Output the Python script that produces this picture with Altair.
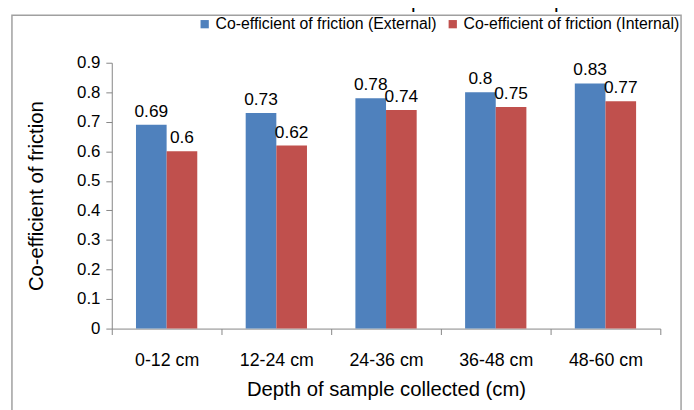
import altair as alt
import pandas as pd

categories = ["0-12 cm", "12-24 cm", "24-36 cm", "36-48 cm", "48-60 cm"]
external = [0.69, 0.73, 0.78, 0.80, 0.83]
internal = [0.60, 0.62, 0.74, 0.75, 0.77]
series = ["Co-efficient of friction (External)", "Co-efficient of friction (Internal)"]
colors = ["#4F81BD", "#C0504D"]
y_ticks = [0, 0.1, 0.2, 0.3, 0.4, 0.5, 0.6, 0.7, 0.8, 0.9]
title_text = "manure measured at different depths in manure pit."

rows = []
for c, e, i in zip(categories, external, internal):
    rows.append({"depth": c, "series": series[0], "value": e})
    rows.append({"depth": c, "series": series[1], "value": i})
df = pd.DataFrame(rows)

FONT = "Liberation Sans"
AX = "#868686"

x_enc = alt.X(
    "depth:N", sort=categories,
    scale=alt.Scale(paddingInner=0, paddingOuter=0),
    axis=alt.Axis(title="Depth of sample collected (cm)", labelAngle=0, tickBand="extent",
                  domainColor=AX, tickColor=AX, tickSize=6, labelFontSize=18,
                  labelPadding=17, titleFontSize=20.5, titleFontWeight="normal",
                  titlePadding=11, labelColor="black", titleColor="black"),
)
xo_enc = alt.XOffset("series:N", sort=series,
                     scale=alt.Scale(paddingInner=0, paddingOuter=0.79))
y_enc = alt.Y(
    "value:Q",
    scale=alt.Scale(domain=[0, 0.9], nice=False),
    axis=alt.Axis(title="Co-efficient of friction", values=y_ticks, format=".1~f",
                  grid=False, domainColor=AX, tickColor=AX, tickSize=6,
                  labelFontSize=17, labelPadding=6, titleFontSize=20.5,
                  titleFontWeight="normal", titlePadding=30,
                  labelColor="black", titleColor="black"),
)

bars = alt.Chart(df).mark_bar().encode(
    x=x_enc, xOffset=xo_enc, y=y_enc,
    color=alt.Color("series:N", sort=series,
                    scale=alt.Scale(domain=series, range=colors),
                    legend=alt.Legend(title=None, orient="none", legendX=86, legendY=-47,
                                      direction="horizontal", symbolType="square",
                                      symbolSize=70, symbolStrokeWidth=0,
                                      labelFontSize=16, labelColor="black",
                                      columnPadding=8, labelOffset=3, labelLimit=300)),
)

labels = alt.Chart(df).mark_text(fontSize=17.5, baseline="alphabetic", dy=-8, color="black").encode(
    x=x_enc, xOffset=xo_enc, y=y_enc,
    text=alt.Text("value:Q", format=".2~f"),
)

one = pd.DataFrame({"a": [0]})
frame = alt.Chart(one).mark_rect(filled=False, stroke="#a0a0a0", strokeWidth=1.5).encode(
    x=alt.value(-101), x2=alt.value(576), y=alt.value(-48), y2=alt.value(420)
)
cut_title = alt.Chart(one).mark_text(fontSize=21, baseline="alphabetic", color="black").encode(
    x=alt.value(237), y=alt.value(-55), text=alt.value(title_text)
)

chart = alt.layer(frame, cut_title, bars, labels).properties(
    width=555, height=269,
    autosize=alt.AutoSizeParams(type="none"),
    padding={"left": 105, "top": 53, "right": 26, "bottom": 80},
).configure(font=FONT).configure_view(stroke=None)

chart.save("out.html", embed_options={"renderer": "svg", "actions": False})
